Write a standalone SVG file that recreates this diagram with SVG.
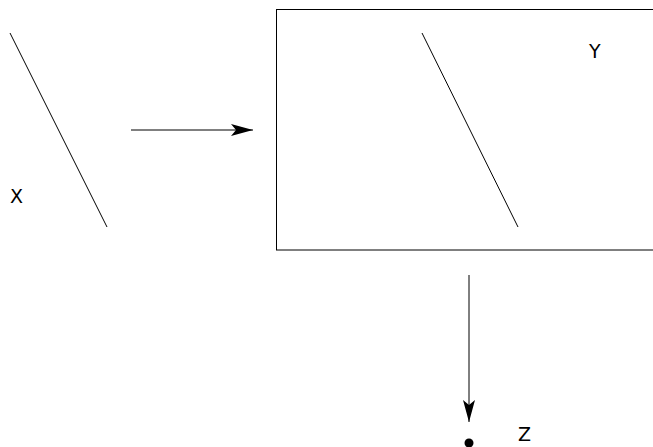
<svg xmlns="http://www.w3.org/2000/svg" width="653" height="447" viewBox="0 0 653 447">
<style>
.ln{stroke:#000;stroke-width:1;fill:none}
.lb{font-family:"DejaVu Sans","Liberation Sans",sans-serif;font-size:19px;fill:#000}
</style>
<defs>
<marker id="ah" viewBox="0 0 22 12" refX="22" refY="6" markerWidth="22" markerHeight="12" markerUnits="userSpaceOnUse" orient="auto">
<path d="M0,0 L22,6 L0,12 L5,6 Z" fill="#000"/>
</marker>
</defs>
<rect width="653" height="447" fill="#fff"/>
<g id="X">
<line class="ln" x1="10" y1="33" x2="107" y2="227"/>
<text class="lb" x="10" y="203">X</text>
</g>
<g id="Y">
<rect class="ln" x="276.5" y="9.5" width="390" height="240.5"/>
<line class="ln" x1="422" y1="33" x2="518" y2="227"/>
<text class="lb" x="589" y="58">Y</text>
</g>
<g id="Z">
<circle cx="469" cy="443" r="4.5" fill="#000"/>
<text class="lb" x="518" y="441">Z</text>
</g>
<g id="connectors">
<line class="ln" x1="131" y1="130" x2="253" y2="130" marker-end="url(#ah)"/>
<line class="ln" x1="469" y1="275" x2="469" y2="422" marker-end="url(#ah)"/>
</g>
</svg>
